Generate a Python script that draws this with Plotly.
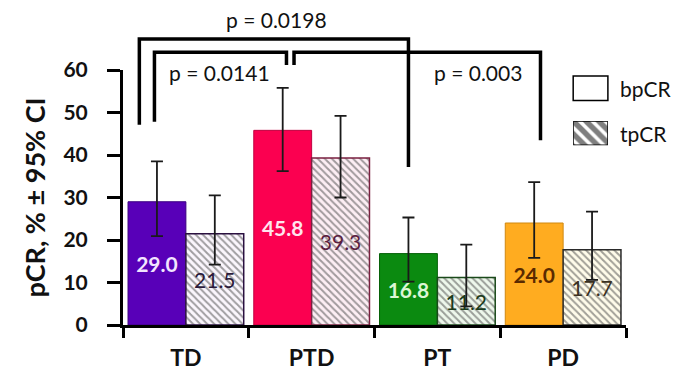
import plotly.graph_objects as go

categories = ["TD", "PTD", "PT", "PD"]
bpcr = [29.0, 45.8, 16.8, 24.0]
bpcr_hi = [38.5, 55.8, 25.3, 33.6]
bpcr_lo = [20.9, 36.2, 10.2, 15.8]
tpcr = [21.5, 39.3, 11.2, 17.7]
tpcr_hi = [30.5, 49.2, 18.9, 26.7]
tpcr_lo = [14.2, 30.0, 4.4, 10.6]

solid_colors = ["#5800b8", "#fb0050", "#0b8a10", "#ffac20"]
solid_lines = ["#3a0080", "#c00040", "#066008", "#d08810"]
solid_text = ["#f2e4ff", "#ffe4ee", "#dcf6d4", "#5a2a00"]
hatch_fg = ["#4a1a6a", "#c83068", "#1f6f1f", "#ccb050"]
hatch_bg = ["#fbf6fd", "#fdeef4", "#eef8ec", "#fffcea"]
hatch_lines = ["#2a1040", "#7a2040", "#1a4a1a", "#2a2a2a"]
hatch_text = ["#2a1a3a", "#5a2040", "#1a3a1a", "#3a3020"]

YMAX = 60
FONT = "Lato"

fig = go.Figure()
fig.add_trace(go.Bar(
    x=categories, y=bpcr, name="bpCR",
    marker=dict(color=solid_colors, line=dict(color=solid_lines, width=1)),
    error_y=dict(type="data", symmetric=False,
                 array=[h - v for h, v in zip(bpcr_hi, bpcr)],
                 arrayminus=[v - l for l, v in zip(bpcr_lo, bpcr)],
                 color="#1a1a1a", thickness=1.8, width=6),
    text=[f"{v:.1f}" for v in bpcr], textposition="inside",
    insidetextanchor="middle", textangle=0,
    textfont=dict(family=FONT, size=21, color=solid_text, weight="bold"),
    showlegend=False,
))
fig.add_trace(go.Bar(
    x=categories, y=tpcr, name="tpCR",
    marker=dict(color=hatch_bg, line=dict(color=hatch_lines, width=1.5),
                pattern=dict(shape="\\", fgcolor=hatch_fg, bgcolor=hatch_bg,
                             size=5, solidity=0.4, fillmode="overlay")),
    error_y=dict(type="data", symmetric=False,
                 array=[h - v for h, v in zip(tpcr_hi, tpcr)],
                 arrayminus=[v - l for l, v in zip(tpcr_lo, tpcr)],
                 color="#1a1a1a", thickness=1.8, width=6),
    text=[f"{v:.1f}" for v in tpcr], textposition="inside",
    insidetextanchor="middle", textangle=0,
    textfont=dict(family=FONT, size=21, color=hatch_text),
    showlegend=False,
))

# legend hatch sample (dummy bar on its own small axes)
fig.add_trace(go.Bar(
    x=[0], y=[1], width=[1], xaxis="x2", yaxis="y2", showlegend=False,
    hoverinfo="skip",
    marker=dict(color="white", line=dict(color="black", width=1.5),
                pattern=dict(shape="\\", fgcolor="black", bgcolor="white",
                             size=9, solidity=0.6)),
))

GAP = 0.08
half = (1 - GAP) / 4  # offset of each bar center from category center


def xd(cat_idx, bar, extra=0.0):
    off = -half if bar == 0 else half
    return (cat_idx + 0.5 + off + extra) / len(categories)


def yd(v):
    return v / YMAX


LW = 3.5
brackets = [
    # (x0, x1, ytop, yleft, yright)
    (xd(0, 0, -0.14), xd(2, 0, 0.0), 67.3, 47.1, 37.2),
    (xd(0, 0, -0.02), xd(1, 0, 0.03), 64.2, 47.8, 61.2),
    (xd(1, 0, 0.09), xd(3, 0, 0.05), 64.2, 61.2, 43.5),
]
shapes = []
for x0, x1, yt, yl, yr in brackets:
    shapes.append(dict(type="path", xref="x domain", yref="y domain",
                       path=f"M {x0},{yd(yl)} L {x0},{yd(yt)} L {x1},{yd(yt)} L {x1},{yd(yr)}",
                       line=dict(color="black", width=LW)))

# legend solid box
lx0, lx1 = 0.895, 0.964
shapes.append(dict(type="rect", xref="x domain", yref="y domain",
                   x0=lx0, x1=lx1, y0=yd(52.8), y1=yd(58.6),
                   line=dict(color="black", width=1.5), fillcolor="white"))

pvals = [("p = 0.0198", xd(1, 0, -0.05), 71.8),
         ("p = 0.0141", xd(0, 0, 0.5), 59.3),
         ("p = 0.003", xd(2, 0, 0.55), 59.4)]
annotations = []
for t, x, y in pvals:
    annotations.append(dict(text=t, xref="x domain", yref="y domain", x=x, y=yd(y),
                            showarrow=False, font=dict(family=FONT, size=21, color="#111"),
                            xanchor="center", yanchor="middle"))
for t, y in [("bpCR", 55.7), ("tpCR", 45.0)]:
    annotations.append(dict(text=t, xref="x domain", yref="y domain", x=0.985, y=yd(y),
                            showarrow=False, font=dict(family=FONT, size=21, color="#111"),
                            xanchor="left", yanchor="middle"))

fig.update_layout(
    width=679, height=378,
    margin=dict(l=123, r=53, t=70, b=53),
    paper_bgcolor="white", plot_bgcolor="white",
    barmode="group", bargap=GAP, bargroupgap=0,
    font=dict(family=FONT, color="#111"),
    shapes=shapes, annotations=annotations,
    xaxis=dict(type="category", showline=True, linecolor="black", linewidth=3,
               ticks="outside", tickson="boundaries", ticklen=10, tickwidth=3,
               tickcolor="black", showgrid=False, ticklabelstandoff=10,
               automargin=False,
               tickfont=dict(family=FONT, size=23, color="#111", weight="bold")),
    yaxis=dict(range=[0, YMAX], dtick=10, showline=True, linecolor="black",
               linewidth=3, ticks="outside", ticklen=13, tickwidth=3,
               tickcolor="black", showgrid=False, zeroline=False,
               ticklabelstandoff=15, automargin=False,
               tickfont=dict(family=FONT, size=21, color="#111", weight="bold"),
               title=dict(text="pCR, % ± 95% CI", standoff=10,
                          font=dict(family=FONT, size=27, color="#111", weight="bold"))),
    xaxis2=dict(domain=[lx0, lx1], range=[-0.5, 0.5], visible=False, anchor="y2"),
    yaxis2=dict(domain=[yd(42.3), yd(48.0)], range=[0, 1], visible=False, anchor="x2"),
)

fig.write_html("out.html")
